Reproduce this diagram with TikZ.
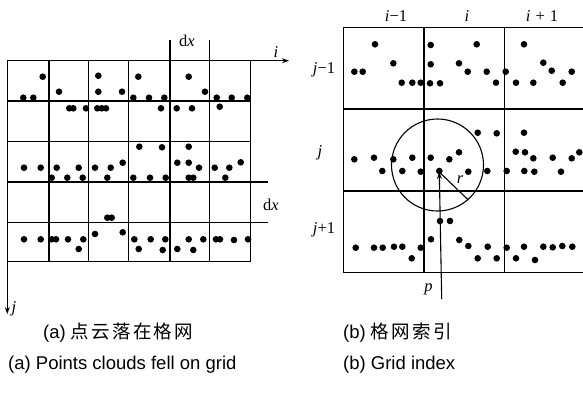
\documentclass[tikz,border=0pt]{standalone}
\usepackage{fontspec}
\setmainfont{Liberation Serif}
\newfontfamily\capfont{Liberation Sans}
\newfontfamily\cjk[LetterSpace=12]{Noto Sans CJK SC}
\usepackage{tikz}
\usetikzlibrary{arrows.meta}

\tikzset{
  gridline/.style={line width=1.1pt},
  axis/.style={line width=1.1pt, -{Stealth[length=7pt,width=5pt]}},
  lab/.style={font=\fontsize{16.5}{16.5}\selectfont, inner sep=0pt},
  captext/.style={font=\fontsize{18.5}{19}\selectfont\capfont, inner sep=0pt, anchor=west}
}
\newcommand{\dotr}{3.3}

\begin{document}
\begin{tikzpicture}[x=1pt, y=-1pt]
				\useasboundingbox (0,0) rectangle (583,394);
				% (a) grid with points
				\foreach \gx in {7.3,49,88.3,128.3,170,209.3,250.7}
					\draw[gridline] (\gx,60.7) -- (\gx,261.7);
				\foreach \gy in {101,141.7,222.3,261.7}
					\draw[gridline] (7.3,\gy) -- (250.7,\gy);
				\coordinate (ia) at (7.3,60.7);
				\coordinate (ib) at (289,60.7);
				\coordinate (ja) at (7.3,261.7);
				\coordinate (jb) at (7.3,314);
				\draw[axis] (ia) -- (ib);
				\draw[axis] (ja) -- (jb);
				\node[lab] (ilab) at (276,52) {\textit{i}};
				\node[lab] (jlab) at (14,309) {\textit{j}};
				\draw[gridline] (170,40) -- (170,60.7);
				\draw[gridline] (209.3,40) -- (209.3,60.7);
				\node[lab] (dxtop) at (187,41) {d\textit{x}};
				\draw[gridline] (7.3,182) -- (268,182);
				\draw[gridline] (250.7,222.3) -- (268,222.3);
				\node[lab] (dxright) at (271,205) {d\textit{x}};
				\foreach \px/\py in {42.7/76.7,23.3/97.7,33.3/97.7,59/91.7,98.3/75.7,98.3/91.7,122/91.7,
					138.3/76.7,133.3/97.7,149/97.7,164.3/97.7,188.7/76.7,205/91.7,216.7/97.7,231.7/97.7,247.3/97.7,
					69.3/108.3,73.3/108.3,86/108.3,97.3/108.3,101.7/108.3,106/108.3,161/108.3,176.7/108.3,192/108.3,219.7/106.7,
					139.3/146.7,162/147.3,188.7/146.7,24/167.7,40.7/167.7,56.7/167.7,78.7/167.7,95/167.7,110.7/167.7,122.7/162.7,
					51.7/177.7,67.3/177.7,82.7/177.7,107.3/177.7,133.3/177.7,150/177.7,165.7/177.7,177.3/162.7,188.7/162.7,
					199/167.7,188.7/177.7,193.3/177.7,214.7/167.7,229.3/167.7,240.7/162.3,225.3/177.7,
					107.3/217.7,111.7/217.7,
					24/239.3,40.7/239.3,51.7/239.3,56/239.3,68/239.3,83.3/239.3,78.7/249,95/234,122.7/232.3,134.3/239.3,
					138.7/249,150.7/239.3,162.7/250,165.3/239.3,177.3/249,188.7/239.3,193.3/250,203.3/239.3,216/239.3,
					220/239.3,234/240,248/239.3}
					\fill (\px,\py) circle (\dotr);
				
				% (b) grid index
				\foreach \gx in {343.3,424,504.3}
					\draw[gridline] (\gx,27.3) -- (\gx,272.3);
				\foreach \gy in {27.3,109,191,272.3}
					\draw[gridline] (343.3,\gy) -- (583,\gy);
				\node[lab] (cm) at (396,16) {\textit{i}−1};
				\node[lab] (c0) at (467,16) {\textit{i}};
				\node[lab] (cp) at (542,16) {\textit{i}\hspace{0.3em}+\hspace{0.3em}1};
				\node[lab] (rm) at (324,70) {\textit{j}−1};
				\node[lab] (r0) at (320,153) {\textit{j}};
				\node[lab] (rp) at (324,230) {\textit{j}+1};
				\foreach \px/\py in {375/44.3,354.3/71.7,362.7/71.7,393.3/63.3,401.7/82.7,412.3/82.7,420.7/82.7,430.7/45,
					430.7/64.3,430/83.3,440/83.3,476.7/44.3,459/63.3,467.7/71.7,486.7/71.7,496/82.7,505.7/71.7,516/82.7,
					524/44.3,533.3/82.7,543.3/62.7,551.7/70.7,562.7/82.7,571.7/71.7,
					354.3/159.3,374/157.7,382.3/171,393.3/159.3,402.3/171,412.3/157.7,420.7/171.7,430.7/157.7,439.3/171,
					449.3/159.3,459/152.3,468.3/171.7,477.7/132.7,496.7/133.3,487.3/171,506.7/171,524/132.7,515.7/151.7,
					525/152.3,533.3/158.3,524.3/171,534.3/171.7,552.7/157.7,561/171.7,571.7/158.3,579.3/152.3,
					355.7/247.7,374/247.7,382.7/247.7,394/246.7,402.3/246.7,411.7/258.3,420.7/247.7,431/239.3,440/221,
					450/221,459.3/240,468.3/246,477.7/258.3,487.7/246.7,496.7/258.3,506.7/247.7,516/258.3,524/246.7,
					535/260,543.3/246.7,552.7/247.3,562.3/246,572.3/246.7}
					\fill (\px,\py) circle (\dotr);
				\node[draw, circle, line width=1.1pt, minimum size=92pt, inner sep=0pt] (nbr) at (437.5,165) {};
				\coordinate (pt) at (439.3,172);
				\coordinate (pbase) at (441.7,299);
				\coordinate (rend) at (468.3,200);
				\draw[axis] (pbase) -- (pt);
				\draw[gridline] (pt) -- (rend);
				\node[lab] (rlab) at (460,180) {\textit{r}};
				\node[lab] (plab) at (428.5,289) {\textit{p}};
				
				% captions
				\node[captext] (capa) at (43,333) {(a) {\cjk 点云落在格网}};
				\node[captext] (capb) at (343,333) {(b) {\cjk 格网索引}};
				\node[captext] (enga) at (8,365) {(a) Points clouds fell on grid};
				\node[captext] (engb) at (343,365) {(b) Grid index};
			\end{tikzpicture}
\end{document}
